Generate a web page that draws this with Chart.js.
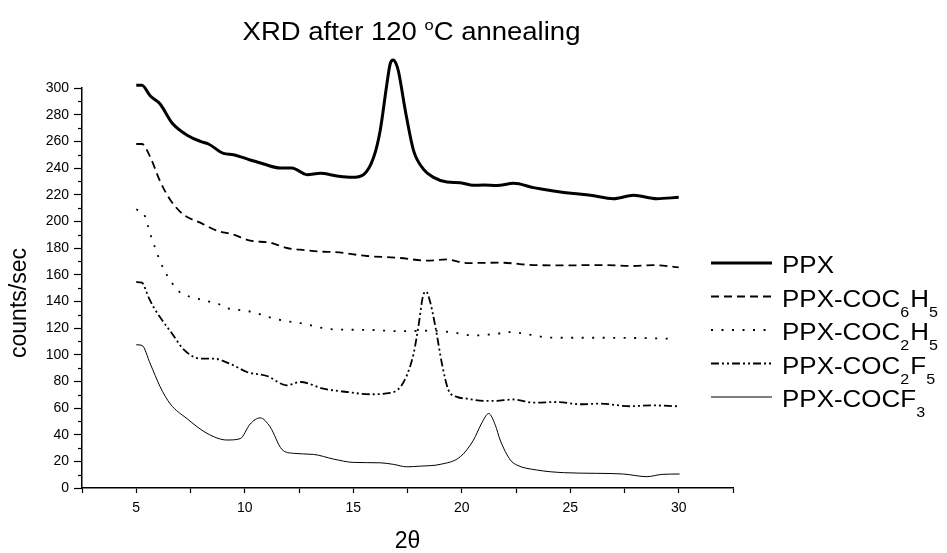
<!DOCTYPE html>
<html>
<head>
<meta charset="utf-8">
<script src="https://cdn.jsdelivr.net/npm/chart.js@4.4.1/dist/chart.umd.min.js"></script>
<style>
  html, body { margin: 0; padding: 0; background: #fff; }
</style>
</head>
<body>
<canvas id="xrdChart" width="947" height="553"></canvas>
<script>
// 2theta (deg) and counts/sec
const ppxX = [5.0, 5.26, 5.65, 6.1, 6.64, 7.41, 7.95, 8.33, 9.02, 9.48, 10.25, 10.87, 11.64, 12.17, 12.87, 13.48, 14.25, 14.94, 15.47, 15.94, 16.24, 16.55, 16.7, 16.84, 16.98, 17.09, 17.4, 17.78, 18.24, 18.7, 19.32, 19.93, 20.54, 21.0, 21.62, 22.39, 23.31, 24.23, 25.15, 25.92, 26.99, 27.92, 28.99, 30.0];
const ppxY = [302, 302, 294, 288, 274, 264, 260, 258, 251, 250, 246, 243, 240, 240, 235, 236, 234, 233, 235, 248, 268, 303, 318, 321, 318, 312, 283, 253, 239, 233, 229.5, 229, 227, 227.3, 226.8, 228.5, 225.3, 222.8, 220.8, 219.6, 217, 219.6, 217, 218];

const coc6h5X = [5.0, 5.26, 5.65, 6.1, 6.57, 7.18, 7.95, 8.72, 9.48, 10.25, 11.17, 11.94, 12.79, 13.63, 14.09, 15.63, 17.17, 18.4, 19.32, 20.24, 21.77, 23.31, 24.84, 26.38, 27.92, 28.84, 30.0];
const coc6h5Y = [258, 258, 248, 230, 216, 205, 199, 193, 190, 185.5, 184, 180, 178.4, 177.2, 177, 174, 172.5, 170.5, 171.4, 168.7, 169, 167.2, 167, 167.2, 166.5, 167.2, 165.5];

const coc2h5X = [5.0, 5.37, 5.54, 5.69, 5.88, 6.07, 6.3, 6.6, 6.98, 7.41, 7.87, 8.3, 8.79, 9.18, 9.67, 10.17, 10.63, 11.14, 11.64, 12.56, 14.09, 15.63, 17.17, 18.7, 19.62, 20.54, 21.62, 22.16, 24.23, 26.38, 28.0, 29.61];
const coc2h5Y = [209, 205, 196.6, 188.4, 179.7, 171.2, 163, 154.8, 147.3, 143.8, 141.8, 140, 138, 135, 133.6, 132.6, 130.6, 128, 126, 123.6, 119, 118.6, 117.6, 118, 116.6, 114.4, 115.7, 116.9, 112.7, 112.7, 112.5, 112];

const coc2f5X = [5.0, 5.26, 5.57, 5.8, 6.1, 6.64, 7.18, 7.95, 8.56, 9.48, 10.1, 11.02, 11.94, 12.56, 13.63, 14.71, 15.78, 16.71, 17.17, 17.47, 17.78, 18.02, 18.2, 18.35, 18.52, 18.79, 19.09, 19.39, 19.78, 20.24, 21.0, 21.47, 22.39, 23.31, 24.39, 25.46, 26.38, 27.76, 28.69, 29.92];
const coc2f5Y = [154.5, 154, 143, 135.6, 128, 116, 104, 97, 97, 92, 87, 84, 77, 79.5, 74.5, 72, 70.3, 71.3, 75.7, 84.5, 100.7, 123, 143, 147.5, 141, 120.6, 93, 73.3, 68.3, 67, 65.3, 65.3, 66.4, 64, 64.5, 62.8, 63.3, 61.3, 62, 61.3];

const cocf3X = [5.0, 5.26, 5.65, 6.1, 6.57, 7.34, 8.26, 9.18, 9.79, 10.25, 10.71, 11.17, 11.71, 12.25, 13.17, 14.09, 15.0, 16.24, 16.86, 17.47, 18.09, 19.0, 19.93, 20.54, 20.9, 21.24, 21.55, 21.77, 22.24, 22.54, 23.46, 24.69, 26.22, 27.45, 28.53, 29.22, 30.04];
const cocf3Y = [107.4, 107, 93, 76, 63, 52, 41, 36, 37, 48, 52.6, 45.8, 29, 26, 25.2, 21.7, 19.2, 18.9, 17.7, 15.9, 16.4, 17.7, 23.4, 35.9, 48, 55.8, 47, 36, 21, 17.2, 13.5, 11.5, 11, 10.5, 8.5, 10.2, 10.5];

// '_' = one-char subscript, '^' = one-char superscript
const seriesLabels = ['PPX', 'PPX-COC_6H_5', 'PPX-COC_2H_5', 'PPX-COC_2F_5', 'PPX-COCF_3'];
const chartTitle = 'XRD after 120 ^oC annealing';
const yTitle = 'counts/sec';
const xTitle = '2θ';

const xTickValues = [2.5, 5, 7.5, 10, 12.5, 15, 17.5, 20, 22.5, 25, 27.5, 30, 32.5];
const yMinorTicks = [10, 30, 50, 70, 90, 110, 130, 150, 170, 190, 210, 230, 250, 270, 290];

const FONT = '"Liberation Sans", Arial, sans-serif';

function pts(xs, ys) {
  return xs.map((x, i) => ({ x: x, y: ys[i] }));
}

// draws text with simple sub/superscripts (k = horizontal stretch), returns width
function richText(ctx, str, x, y, size, k, measureOnly) {
  const parts = str.split(/([_^].)/).filter(p => p !== '');
  let cx = 0;
  ctx.save();
  ctx.translate(x, y);
  ctx.scale(k, 1);
  parts.forEach(p => {
    let txt = p, dy = 0, fs = size;
    if (p[0] === '_') { txt = p[1]; fs = size * 0.62; dy = size * 0.42; }
    else if (p[0] === '^') { txt = p[1]; fs = size * 0.6; dy = -size * 0.42; }
    ctx.font = fs + 'px ' + FONT;
    if (!measureOnly) ctx.fillText(txt, cx, dy);
    cx += ctx.measureText(txt).width + (p[0] === '_' ? 1 : 0);
  });
  ctx.restore();
  return cx * k;
}

const decorations = {
  id: 'decorations',
  afterDraw(chart) {
    const { ctx, chartArea, scales } = chart;
    ctx.save();
    ctx.fillStyle = '#000';
    ctx.strokeStyle = '#000';
    ctx.textAlign = 'left';
    ctx.textBaseline = 'alphabetic';

    // title
    const tw = richText(ctx, chartTitle, 0, 0, 25, 1.1, true);
    const cxTitle = (chartArea.left + chartArea.right) / 2 + 4;
    richText(ctx, chartTitle, cxTitle - tw / 2, 40, 25, 1.1);

    // y title, sits a bit below the middle of the axis
    ctx.save();
    ctx.translate(20, (chartArea.top + chartArea.bottom) / 2 + 15);
    ctx.rotate(-Math.PI / 2);
    ctx.textAlign = 'center';
    ctx.textBaseline = 'middle';
    ctx.font = '23px ' + FONT;
    ctx.fillText(yTitle, 0, 0);
    ctx.restore();

    // minor y ticks
    ctx.lineWidth = 1.2;
    yMinorTicks.forEach(v => {
      const py = Math.round(scales.y.getPixelForValue(v)) + 0.5;
      ctx.beginPath();
      ctx.moveTo(chartArea.left - 4, py);
      ctx.lineTo(chartArea.left, py);
      ctx.stroke();
    });

    // legend
    const lx = chartArea.right - 22;
    chart.data.datasets.forEach((ds, i) => {
      const ly = 263 + i * 33.5;
      ctx.save();
      ctx.lineWidth = ds.borderWidth;
      ctx.setLineDash(ds.borderDash || []);
      ctx.beginPath();
      ctx.moveTo(lx, ly);
      ctx.lineTo(lx + 61, ly);
      ctx.stroke();
      ctx.restore();
      richText(ctx, seriesLabels[i], lx + 71, ly + 10, 24.5, 1.06);
    });
    ctx.restore();
  }
};

const styles = [
  { borderWidth: 3, borderDash: [] },
  { borderWidth: 1.8, borderDash: [8, 5] },
  { borderWidth: 1.8, borderDash: [2, 8.5] },
  { borderWidth: 1.8, borderDash: [8, 3, 2, 3, 2, 3] },
  { borderWidth: 1, borderDash: [] }
];
const seriesData = [pts(ppxX, ppxY), pts(coc6h5X, coc6h5Y), pts(coc2h5X, coc2h5Y), pts(coc2f5X, coc2f5Y), pts(cocf3X, cocf3Y)];

const ctx = document.getElementById('xrdChart').getContext('2d');
const xrdChart = new Chart(ctx, {
  type: 'line',
  data: {
    datasets: seriesData.map((d, i) => ({
      label: seriesLabels[i].replace(/[_^]/g, ''),
      data: d,
      borderColor: '#000',
      borderWidth: styles[i].borderWidth,
      borderDash: styles[i].borderDash,
      pointRadius: 0,
      cubicInterpolationMode: 'monotone',
      clip: false,
      fill: false
    }))
  },
  options: {
    responsive: false,
    animation: false,
    devicePixelRatio: 1,
    layout: { padding: { top: 88, right: 214, left: 0, bottom: 0 } },
    plugins: {
      legend: { display: false },
      title: { display: false },
      tooltip: { enabled: false }
    },
    scales: {
      x: {
        type: 'linear',
        min: 2.5,
        max: 32.5,
        afterBuildTicks: s => { s.ticks = xTickValues.map(v => ({ value: v })); },
        afterFit: s => { s.height = 65; },
        border: { color: '#000', width: 1.5 },
        grid: { drawOnChartArea: false, tickLength: 5, color: '#000', tickWidth: 1.2 },
        ticks: {
          autoSkip: false,
          maxRotation: 0,
          padding: 7,
          color: '#000',
          font: { family: FONT, size: 14 },
          callback: v => (v % 5 === 0 ? String(v) : '')
        },
        title: {
          display: true,
          text: xTitle,
          color: '#000',
          font: { family: FONT, size: 23, lineHeight: 1 },
          padding: { top: 0, bottom: 0 }
        }
      },
      y: {
        min: 0,
        max: 300,
        afterFit: s => { s.width = 82; },
        border: { color: '#000', width: 1.5 },
        grid: { drawOnChartArea: false, tickLength: 8, color: '#000', tickWidth: 1.2 },
        ticks: {
          stepSize: 20,
          padding: 5,
          color: '#000',
          font: { family: FONT, size: 14 }
        }
      }
    }
  },
  plugins: [decorations]
});
</script>
</body>
</html>
